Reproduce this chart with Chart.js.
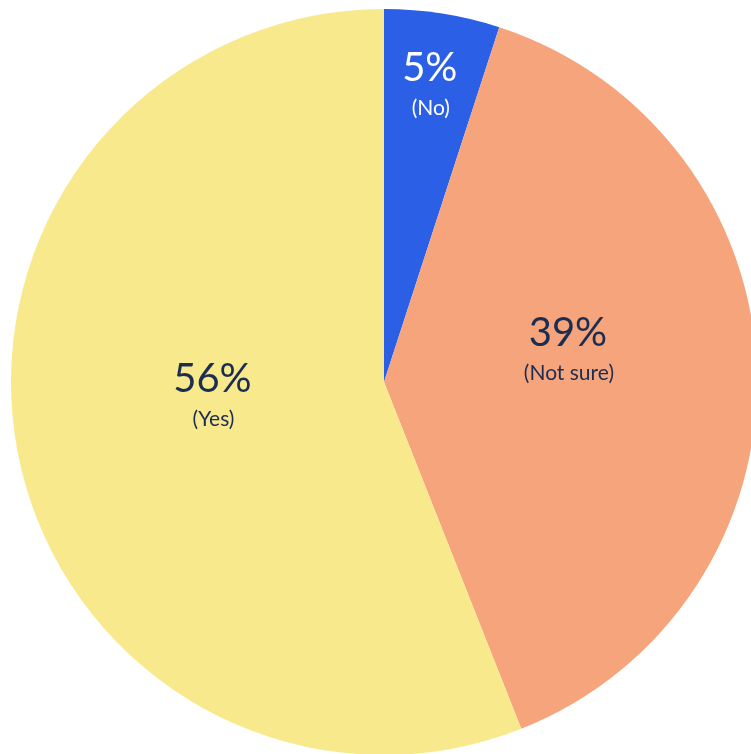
<!DOCTYPE html>
<html>
<head>
<meta charset="utf-8">
<script src="https://cdn.jsdelivr.net/npm/chart.js@4.4.0/dist/chart.umd.min.js"></script>
<style>
  html, body { margin: 0; padding: 0; background: #fff; overflow: hidden; }
  #wrap { position: absolute; left: 0; top: 0; width: 768px; height: 764px; }
</style>
</head>
<body>
<div id="wrap"><canvas id="pie" width="768" height="764"></canvas></div>
<script>
// данные графика
const categories = ['No', 'Not sure', 'Yes'];
const shares = [5, 39, 56];
const sliceColors = ['#2b5fe6', '#f5a47c', '#f9e98d'];
const textColors = ['#ffffff', '#1c2d52', '#1c2d52'];

// где ставить подписи: доля радиуса и сдвиг угла (градусы)
const labelPlace = [
    { f: 0.85, shift: -0.7 },
    { f: 0.51, shift: -13 },
    { f: 0.46, shift: 11.8 }
];

const sliceLabels = {
    id: 'sliceLabels',
    afterDatasetsDraw(chart) {
        const ctx = chart.ctx;
        const meta = chart.getDatasetMeta(0);
        meta.data.forEach((arc, i) => {
            const p = arc.getProps(['x', 'y', 'startAngle', 'endAngle', 'outerRadius'], true);
            const mid = (p.startAngle + p.endAngle) / 2 + labelPlace[i].shift * Math.PI / 180;
            const r = p.outerRadius * labelPlace[i].f;
            const x = p.x + Math.cos(mid) * r;
            const y = p.y + Math.sin(mid) * r;
            ctx.save();
            ctx.fillStyle = textColors[i];
            ctx.textAlign = 'center';
            ctx.textBaseline = 'middle';
            ctx.font = '400 40px Lato';
            ctx.fillText(shares[i] + '%', x, y);
            ctx.font = '400 21px Lato';
            ctx.fillText('(' + categories[i] + ')', x + 1, y + 40);
            ctx.restore();
        });
    }
};

new Chart(document.getElementById('pie').getContext('2d'), {
    type: 'pie',
    data: {
        labels: categories,
        datasets: [{
            data: shares,
            backgroundColor: sliceColors,
            borderWidth: 0
        }]
    },
    options: {
        responsive: false,
        animation: false,
        layout: { padding: 9 },
        plugins: {
            legend: { display: false },
            tooltip: { enabled: false }
        }
    },
    plugins: [sliceLabels]
});
</script>
</body>
</html>
